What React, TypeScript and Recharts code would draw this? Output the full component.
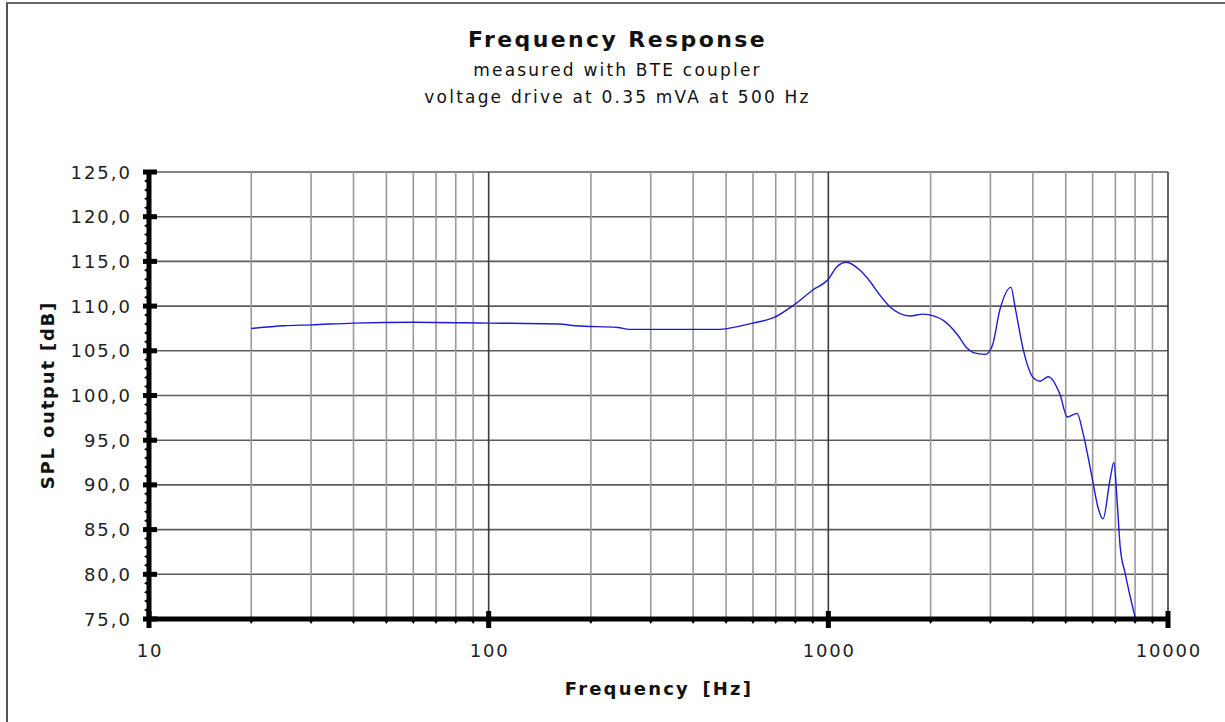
import React from "react";
import { LineChart, Line, XAxis, YAxis, ReferenceLine } from "recharts";

const frequencies = [
  20, 25, 30, 40, 60, 100, 160, 180, 240, 260, 480, 540, 600, 690, 790, 900,
  1000, 1060, 1130, 1240, 1330, 1420, 1520, 1740, 1900, 2040, 2180, 2400,
  2560, 2670, 2900, 3040, 3200, 3450, 3550, 3750, 4010, 4200, 4440, 4810,
  5050, 5400, 5620, 6020, 6220, 6440, 6750, 6930, 7080, 7230, 7480, 8000,
];
const splOutput = [
  107.5, 107.8, 107.9, 108.1, 108.2, 108.1, 108.0, 107.8, 107.6, 107.4, 107.4,
  107.7, 108.1, 108.7, 110.1, 111.8, 113.0, 114.4, 114.9, 114.0, 112.7, 111.2,
  109.9, 108.9, 109.1, 108.9, 108.4, 106.8, 105.3, 104.8, 104.6, 105.6, 109.6,
  112.1, 109.8, 105.1, 102.0, 101.6, 102.1, 100.1, 97.6, 98.0, 95.8, 90.2,
  87.5, 86.2, 90.6, 92.5, 88.3, 83.1, 80.1, 75.2,
];

const majorFreqTicks = [10, 100, 1000, 10000];
const minorFreqTicks = [
  20, 30, 40, 50, 60, 70, 80, 90, 200, 300, 400, 500, 600, 700, 800, 900,
  2000, 3000, 4000, 5000, 6000, 7000, 8000, 9000,
];
const splTicks = [75, 80, 85, 90, 95, 100, 105, 110, 115, 120, 125];

const allFreqTicks = [...majorFreqTicks, ...minorFreqTicks].sort((a, b) => a - b);
// small marks on the y axis every 1 dB
const splMinorTicks: number[] = [];
for (let v = 75; v <= 125; v += 1) splMinorTicks.push(v);

const data = frequencies.map((f, i) => ({ freq: f, spl: splOutput[i] }));

const FONT = "'DejaVu Sans', Verdana, sans-serif";

const XTick = (props: any) => {
  const { x, y, payload } = props;
  const v = payload.value;
  const major = majorFreqTicks.includes(v);
  const axisY = y - 8;
  return (
    <g>
      {major ? (
        <rect x={x - 2.5} y={axisY - 8} width={5} height={17} fill="#000" />
      ) : (
        <path d={`M${x - 3},${axisY} L${x + 3},${axisY} L${x},${axisY + 5} Z`} fill="#000" />
      )}
      {major && (
        <text
          x={x + 1}
          y={y + 30}
          textAnchor="middle"
          fontFamily={FONT}
          fontSize={18}
          letterSpacing={1.8}
          fill="#222"
        >
          {v}
        </text>
      )}
    </g>
  );
};

const YTick = (props: any) => {
  const { x, y, payload } = props;
  const v = payload.value;
  const major = splTicks.includes(v);
  const axisX = x + 8;
  return (
    <g>
      {major ? (
        <rect x={axisX - 6} y={y - 2.5} width={14} height={5} fill="#000" />
      ) : (
        <path d={`M${axisX - 5},${y} L${axisX},${y - 3} L${axisX},${y + 3} Z`} fill="#000" />
      )}
      {major && (
        <text
          x={axisX - 17}
          y={y + 6.5}
          textAnchor="end"
          fontFamily={FONT}
          fontSize={18}
          letterSpacing={2}
          fill="#222"
        >
          {v.toFixed(1).replace(".", ",")}
        </text>
      )}
    </g>
  );
};

export default function App() {
  return (
    <div
      style={{
        position: "absolute",
        left: 0,
        top: 0,
        width: 1225,
        height: 722,
        background: "#fff",
        overflow: "hidden",
      }}
    >
      <div
        style={{
          position: "absolute",
          left: 6,
          top: 2,
          width: 1219,
          height: 720,
          borderTop: "2px solid #666",
          borderLeft: "2px solid #555",
        }}
      />
      <div
        style={{
          position: "absolute",
          left: 0,
          width: 1235,
          top: 27,
          textAlign: "center",
          fontFamily: FONT,
          fontWeight: "bold",
          fontSize: 22,
          color: "#111",
          letterSpacing: 2.4,
        }}
      >
        Frequency Response
      </div>
      <div
        style={{
          position: "absolute",
          left: 0,
          width: 1235,
          top: 57,
          textAlign: "center",
          fontFamily: FONT,
          fontSize: 17,
          lineHeight: "27px",
          color: "#111",
          letterSpacing: 2.2,
        }}
      >
        measured with BTE coupler
        <br />
        voltage drive at 0.35 mVA at 500 Hz
      </div>
      <div
        style={{
          position: "absolute",
          left: 47,
          top: 395,
          transform: "translate(-50%, -50%) rotate(-90deg)",
          whiteSpace: "nowrap",
          fontFamily: FONT,
          fontWeight: "bold",
          fontSize: 18,
          letterSpacing: 1.8,
          color: "#111",
        }}
      >
        SPL output [dB]
      </div>
      <div
        style={{
          position: "absolute",
          left: 659,
          top: 688,
          transform: "translate(-50%, -50%)",
          whiteSpace: "nowrap",
          fontFamily: FONT,
          fontWeight: "bold",
          fontSize: 18,
          letterSpacing: 2.2,
          color: "#111",
          wordSpacing: 4,
        }}
      >
        Frequency [Hz]
      </div>
      <LineChart
        width={1225}
        height={722}
        data={data}
        margin={{ top: 172, right: 57, bottom: 53, left: 49 }}
        style={{ position: "absolute", left: 0, top: 0 }}
      >
        {splTicks.map((v) => (
          <ReferenceLine key={`h-${v}`} y={v} stroke="#5c5c5c" strokeWidth={1.6} />
        ))}
        {minorFreqTicks.map((f) => (
          <ReferenceLine key={`m-${f}`} x={f} stroke="#9a9a9a" strokeWidth={1.6} />
        ))}
        {majorFreqTicks.slice(1).map((f) => (
          <ReferenceLine key={`M-${f}`} x={f} stroke="#3c3c3c" strokeWidth={1.6} />
        ))}
        <XAxis
          dataKey="freq"
          type="number"
          scale="log"
          domain={[10, 10000]}
          ticks={allFreqTicks}
          interval={0}
          height={50}
          axisLine={{ stroke: "#000", strokeWidth: 5 }}
          tickLine={false}
          tick={<XTick />}
          allowDataOverflow
        />
        <YAxis
          type="number"
          domain={[75, 125]}
          ticks={splMinorTicks}
          interval={0}
          width={100}
          axisLine={{ stroke: "#000", strokeWidth: 5 }}
          tickLine={false}
          tick={<YTick />}
          allowDataOverflow
        />
        <Line
          type="monotone"
          dataKey="spl"
          stroke="#1c1cd4"
          strokeWidth={1.4}
          dot={false}
          isAnimationActive={false}
        />
      </LineChart>
    </div>
  );
}
